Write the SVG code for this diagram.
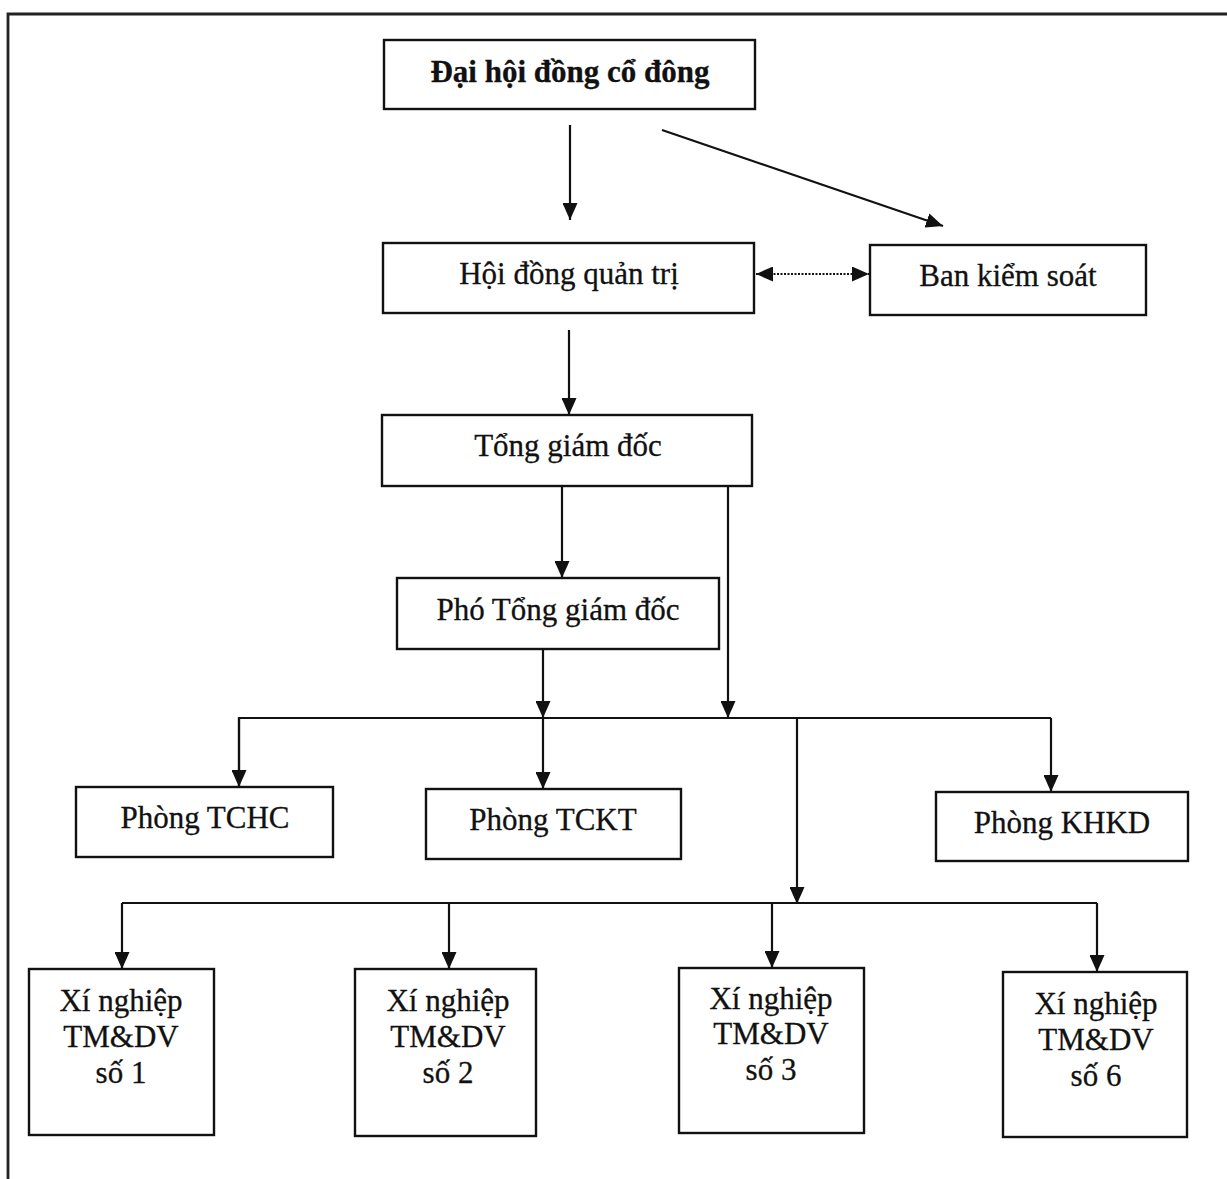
<svg xmlns="http://www.w3.org/2000/svg" width="1227" height="1179" viewBox="0 0 1227 1179">
<style>
.box{fill:#fff;stroke:#111;stroke-width:2.4}
.t{font-family:"Liberation Serif","Times New Roman",serif;font-size:31px;fill:#111;text-anchor:middle;stroke:#111;stroke-width:0.3}
.b{font-weight:bold}
.c{fill:none;stroke:#111;stroke-width:2.2}
.d{fill:none;stroke:#111;stroke-width:1.8;stroke-dasharray:2,1.5}
</style>
<defs>
<marker id="ah" markerUnits="userSpaceOnUse" markerWidth="18" markerHeight="15" refX="17" refY="7.5" orient="auto-start-reverse">
<path d="M0,0 L17,7.5 L0,15 z" fill="#111"/>
</marker>
</defs>
<rect width="1227" height="1179" fill="#fff"/>
<g id="frame">
<path d="M8,1179 V14 H1227" fill="none" stroke="#222" stroke-width="2.8"/>
</g>
<g id="connectors">
<path class="c" d="M570,125 V220" marker-end="url(#ah)"/>
<path class="c" d="M662,130 L943,226" marker-end="url(#ah)"/>
<path class="d" d="M756,274 H869" marker-start="url(#ah)" marker-end="url(#ah)"/>
<path class="c" d="M569,330 V415" marker-end="url(#ah)"/>
<path class="c" d="M562,487 V578" marker-end="url(#ah)"/>
<path class="c" d="M728,487 V718" marker-end="url(#ah)"/>
<path class="c" d="M543,650 V718" marker-end="url(#ah)"/>
<path class="c" d="M239,787 V718 H1051"/>
<path class="c" d="M239,718 V787" marker-end="url(#ah)"/>
<path class="c" d="M543,718 V789" marker-end="url(#ah)"/>
<path class="c" d="M1051,718 V792" marker-end="url(#ah)"/>
<path class="c" d="M797,718 V904" marker-end="url(#ah)"/>
<path class="c" d="M122,903 H1097"/>
<path class="c" d="M122,903 V969" marker-end="url(#ah)"/>
<path class="c" d="M449,903 V969" marker-end="url(#ah)"/>
<path class="c" d="M772,903 V968" marker-end="url(#ah)"/>
<path class="c" d="M1097,903 V972" marker-end="url(#ah)"/>
</g>
<g id="dhdcd">
<rect class="box" x="384" y="40" width="371" height="69"/>
<text class="t b" x="570" y="82">Đại hội đồng cổ đông</text>
</g>
<g id="hdqt">
<rect class="box" x="383" y="243" width="371" height="70"/>
<text class="t" x="569" y="284">Hội đồng quản trị</text>
</g>
<g id="bks">
<rect class="box" x="870" y="245" width="276" height="70"/>
<text class="t" x="1008" y="286">Ban kiểm soát</text>
</g>
<g id="tgd">
<rect class="box" x="382" y="415" width="370" height="71"/>
<text class="t" x="568" y="456">Tổng giám đốc</text>
</g>
<g id="ptgd">
<rect class="box" x="397" y="578" width="322" height="71"/>
<text class="t" x="558" y="620">Phó Tổng giám đốc</text>
</g>
<g id="tchc">
<rect class="box" x="76" y="787" width="257" height="70"/>
<text class="t" x="205" y="828">Phòng TCHC</text>
</g>
<g id="tckt">
<rect class="box" x="426" y="789" width="255" height="70"/>
<text class="t" x="553" y="830">Phòng TCKT</text>
</g>
<g id="khkd">
<rect class="box" x="936" y="792" width="252" height="69"/>
<text class="t" x="1062" y="833">Phòng KHKD</text>
</g>
<g id="xn1">
<rect class="box" x="29" y="969" width="185" height="166"/>
<text class="t" x="121" y="1011">Xí nghiệp</text>
<text class="t" x="121" y="1047">TM&amp;DV</text>
<text class="t" x="121" y="1083">số 1</text>
</g>
<g id="xn2">
<rect class="box" x="355" y="969" width="181" height="167"/>
<text class="t" x="448" y="1011">Xí nghiệp</text>
<text class="t" x="448" y="1047">TM&amp;DV</text>
<text class="t" x="448" y="1083">số 2</text>
</g>
<g id="xn3">
<rect class="box" x="679" y="968" width="185" height="165"/>
<text class="t" x="771" y="1009">Xí nghiệp</text>
<text class="t" x="771" y="1044">TM&amp;DV</text>
<text class="t" x="771" y="1080">số 3</text>
</g>
<g id="xn6">
<rect class="box" x="1003" y="972" width="184" height="165"/>
<text class="t" x="1096" y="1014">Xí nghiệp</text>
<text class="t" x="1096" y="1050">TM&amp;DV</text>
<text class="t" x="1096" y="1086">số 6</text>
</g>
</svg>
